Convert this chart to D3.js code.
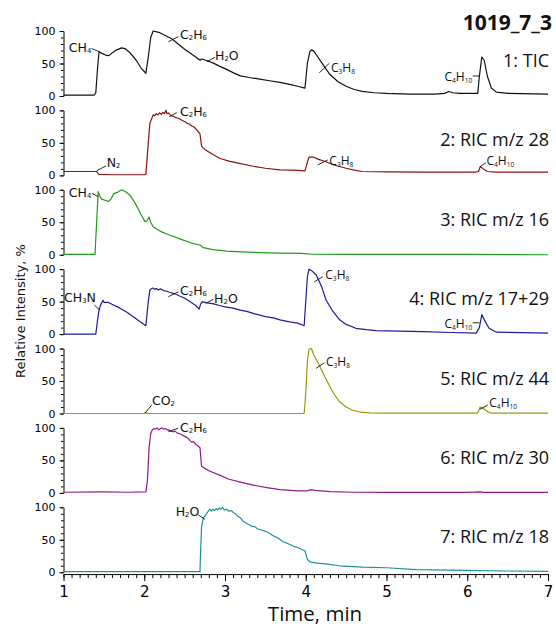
<!DOCTYPE html>
<html><head><meta charset="utf-8">
<script src="https://cdn.jsdelivr.net/npm/d3@7/dist/d3.min.js"></script>
<style>
body{margin:0;background:#fff;}
svg{display:block;}
.tick text{font-family:"DejaVu Sans",sans-serif;}
</style></head>
<body><svg id="chart" width="556" height="627"></svg>
<script>
// ---------------- data (time in min, relative intensity %) ----------------
const title = "1019_7_3";
const panelLabels = ["1: TIC","2: RIC m/z 28","3: RIC m/z 16","4: RIC m/z 17+29","5: RIC m/z 44","6: RIC m/z 30","7: RIC m/z 18"];
const xTicks = [1,2,3,4,5,6,7];
const yTicks = [0,50,100];

const tic = [[1.0,1.5],[1.38,1.5],[1.40,5],[1.42,40],[1.44,68],[1.47,66],[1.52,63],[1.56,62],[1.60,66],[1.66,71],[1.72,74],[1.76,73],[1.82,67],[1.90,55],[1.96,43],[2.02,35],[2.05,60],[2.08,90],[2.11,100],[2.18,98],[2.26,93],[2.34,88],[2.42,80],[2.50,72],[2.58,65],[2.66,58],[2.69,55],[2.71,57],[2.76,55],[2.85,51],[2.93,46],[3.02,41],[3.10,36],[3.19,31],[3.30,28.5],[3.43,26],[3.55,23.5],[3.68,21],[3.80,18],[3.90,15],[3.99,12],[4.02,50],[4.05,68],[4.07,71],[4.10,69],[4.15,60],[4.22,47],[4.30,33],[4.40,22],[4.50,15],[4.60,10],[4.70,7],[4.85,5],[5.0,4],[5.3,3],[5.6,3],[5.72,4],[5.77,7],[5.82,5],[5.9,4],[6.0,4],[6.13,4],[6.15,30],[6.18,60],[6.21,55],[6.25,30],[6.30,12],[6.36,6],[6.5,4],[7.0,3]];

const ric28 = [[1.0,6],[1.38,6],[1.41,6],[1.44,1.5],[1.6,1],[2.0,1],[2.02,2],[2.05,50],[2.07,80],[2.11,93],[2.13,92],[2.15,95],[2.17,93],[2.19,96],[2.21,94],[2.23,97],[2.25,95],[2.27,100],[2.28,95],[2.30,96],[2.33,92],[2.36,91],[2.39,89],[2.42,88],[2.45,86],[2.48,84],[2.51,82],[2.53,80],[2.56,79],[2.59,76],[2.62,74],[2.65,70],[2.69,64],[2.71,45],[2.75,40],[2.85,32],[2.94,26],[3.05,22],[3.19,18],[3.35,14],[3.5,11],[3.68,8.5],[3.85,8],[3.99,7],[4.02,20],[4.04,28],[4.10,28],[4.15,25],[4.25,21],[4.35,16],[4.5,11],[4.6,8],[4.7,6],[5.0,5.5],[5.5,5],[6.1,5],[6.14,6],[6.16,13.5],[6.2,10],[6.25,6],[6.35,5],[7.0,5]];

const ric16 = [[1.0,0.5],[1.39,0.5],[1.41,50],[1.43,97],[1.45,90],[1.47,86],[1.51,84],[1.555,82],[1.59,86],[1.62,94],[1.67,96],[1.72,100],[1.77,97],[1.82,92],[1.87,83],[1.91,74],[1.96,62],[2.01,51],[2.03,52],[2.06,58],[2.08,50],[2.11,43],[2.2,36],[2.32,30],[2.45,24],[2.61,17],[2.69,15],[2.73,11],[2.85,8],[3.02,5.5],[3.2,4.5],[3.43,3.4],[3.7,2.5],[3.95,2],[4.09,0.8],[4.5,0.6],[5.0,0.5],[6.0,0.5],[7.0,0]];

const ric1729 = [[1.0,0],[1.40,0],[1.42,20],[1.44,37],[1.46,45],[1.49,52],[1.50,49],[1.55,49],[1.60,46],[1.70,40],[1.78,34],[1.86,27],[1.94,20],[2.02,13],[2.05,50],[2.07,68],[2.09,70],[2.11,71],[2.13,69],[2.15,70],[2.18,68],[2.20,70],[2.24,67],[2.28,66],[2.32,64],[2.35,63],[2.40,61],[2.45,58],[2.49,56],[2.53,53],[2.57,50],[2.60,47],[2.64,44],[2.66,41],[2.68,38.5],[2.70,47],[2.72,50],[2.78,48],[2.86,46.5],[2.93,44],[3.0,42],[3.1,40],[3.19,37],[3.27,35],[3.35,32],[3.5,27],[3.6,25],[3.68,22],[3.8,19],[3.9,17],[3.98,13],[4.02,88],[4.04,100],[4.08,97],[4.13,91],[4.2,72],[4.25,53],[4.33,36],[4.42,22],[4.5,15],[4.62,9],[4.75,7],[4.87,5.5],[5.45,4],[5.8,2.5],[6.11,1.5],[6.15,10],[6.18,30],[6.22,20],[6.27,9],[6.36,3],[7.0,1.5]];

const ric44 = [[1.0,0],[2.0,0],[2.01,2],[2.03,0],[3.98,0],[4.0,30],[4.02,80],[4.04,99],[4.07,100],[4.10,90],[4.17,74],[4.23,58],[4.29,43.5],[4.35,30],[4.42,18],[4.5,10],[4.58,5],[4.68,2],[4.79,1],[5.0,0.5],[6.12,0.5],[6.14,3],[6.16,10],[6.2,8],[6.25,3],[6.3,0.5],[7.0,0.5]];

const ric30 = [[1.0,1],[1.5,1.5],[1.8,1],[2.02,1.5],[2.04,20],[2.06,70],[2.08,91],[2.10,97],[2.12,99],[2.14,98],[2.16,100],[2.18,97],[2.20,99],[2.22,100],[2.24,98],[2.26,99],[2.28,97],[2.30,97],[2.33,95],[2.36,94],[2.38,95],[2.41,92],[2.44,91],[2.47,89],[2.50,87],[2.53,85],[2.55,83],[2.57,80],[2.59,78],[2.61,79],[2.64,74],[2.66,73],[2.69,69.5],[2.71,41],[2.8,34],[2.94,27],[3.05,21],[3.19,16.6],[3.35,12],[3.52,8],[3.68,5],[3.9,3],[4.02,3],[4.06,5],[4.12,4],[4.3,2],[4.6,1],[5.0,0.8],[6.0,0.8],[6.16,1.5],[6.2,0.8],[7.0,0.8]];

const ric18 = [[1.0,1],[2.69,1],[2.70,40],[2.71,70],[2.73,83],[2.77,90],[2.81,97],[2.83,94],[2.85,97],[2.87,95],[2.89,98],[2.91,96],[2.93,99],[2.95,97],[2.97,100],[2.99,96],[3.02,97],[3.05,94],[3.08,95],[3.10,92],[3.13,90],[3.16,86],[3.19,84],[3.22,79],[3.27,75],[3.30,73],[3.33,71],[3.37,70],[3.40,67],[3.45,65],[3.50,63],[3.55,60],[3.60,56],[3.65,53],[3.72,47],[3.78,44],[3.85,40],[3.90,38],[3.95,35],[3.99,33],[4.02,20],[4.05,16],[4.14,14],[4.25,13],[4.42,10],[4.7,8],[5.0,7],[5.37,4],[6.0,3],[6.5,2],[7.0,1.5]];

const seriesList = [tic, ric28, ric16, ric1729, ric44, ric30, ric18];

// annotations: panel, label ("_n" = subscript), leader from (t0,v0) to (t1,v1), text at (tt,tv), anchor, size class
const annPanel  = [0,0,0,0,0, 1,1,1,1, 2, 3,3,3,3,3, 4,4,4, 5, 6];
const annLabel  = ["CH_4","C_2H_6","H_2O","C_3H_8","C_4H_10", "N_2","C_2H_6","C_3H_8","C_4H_10", "CH_4", "CH_3N","C_2H_6","H_2O","C_3H_8","C_4H_10", "CO_2","C_3H_8","C_4H_10", "C_2H_6", "H_2O"];
const annLine   = [[1.452,67.7,1.349,73],[2.298,83.5,2.422,91.2],[2.773,52.8,2.876,59.5],[4.168,35.8,4.292,50.3],[6.067,30.8,6.158,30.8],
                   [1.411,7.2,1.526,14.5],[2.310,90.3,2.402,96.5],[4.148,16,4.272,23.7],[6.158,13.4,6.232,19.5],
                   [1.349,94.6,1.431,89.4],
                   [1.381,44.8,1.452,37],[2.298,57.5,2.422,65.2],[2.761,47.4,2.855,53.5],[4.106,80.6,4.210,88.3],[6.067,17.5,6.149,17.5],
                   [2.009,0.3,2.092,13],[4.127,69.5,4.230,78],[6.158,6.5,6.253,13],
                   [2.298,94.2,2.422,99.4],
                   [2.669,88.2,2.752,81.5]];
const annText   = [[1.345,76],[2.443,95],[2.876,63],[4.313,45],[6.062,30.8],
                   [1.535,21],[2.443,99],[4.292,23.7],[6.238,23.7],
                   [1.345,97],
                   [1.402,57],[2.443,67.8],[2.865,55],[4.242,92.5],[6.062,17.5],
                   [2.095,20.8],[4.251,81],[6.273,17],
                   [2.443,102],
                   [2.682,94.8]];
const annAnchor = ["end","start","start","start","end", "start","start","start","start", "end", "end","start","start","start","end", "start","start","start", "start", "end"];
const annSmall  = [0,0,0,1,1, 0,0,1,1, 0, 0,0,0,1,1, 0,1,1, 0, 0];

// ---------------- styles / layout ----------------
const colors = ["#111111","#8b1212","#1f9a1f","#1c1c9a","#9a9a0c","#8e1a8e","#1b9494"];
const xLeft = 63.5, xRight = 548;
const firstBottom = 96, step = 79.38, panelH = 65;

const svg = d3.select("#chart");
const x = d3.scaleLinear().domain([1,7]).range([xLeft, xRight]);

seriesList.forEach((data, i) => {
  const bottom = firstBottom + i*step;
  const y = d3.scaleLinear().domain([0,100]).range([bottom, bottom - panelH]);
  const g = svg.append("g");

  g.append("g").attr("transform",`translate(${xLeft},0)`)
    .call(d3.axisLeft(y).tickValues(d3.range(0,101,10)).tickSize(2.5).tickSizeOuter(0).tickFormat(""))
    .call(s => s.select(".domain").remove());
  g.append("g").attr("transform",`translate(${xLeft},0)`)
    .call(d3.axisLeft(y).tickValues(yTicks).tickSize(4).tickSizeOuter(0).tickPadding(4))
    .call(s => s.selectAll("text").attr("font-size",11).attr("fill","#000"))
    .call(s => s.selectAll("line,path").attr("stroke","#000"));

  g.append("path").datum(data)
    .attr("fill","none").attr("stroke",colors[i]).attr("stroke-width",1.2)
    .attr("stroke-linejoin","round")
    .attr("d", d3.line().x(d => x(d[0])).y(d => y(d[1])));

  g.append("text").attr("x", 549).attr("y", bottom - 36)
    .attr("text-anchor","end").attr("dominant-baseline","central")
    .attr("font-family","'Open Sans',sans-serif").attr("font-size",18).attr("fill","#111")
    .text(panelLabels[i]);

  annPanel.forEach((p, k) => {
    if (p !== i) return;
    const L = annLine[k];
    g.append("line").attr("x1",x(L[0])).attr("y1",y(L[1])).attr("x2",x(L[2])).attr("y2",y(L[3]))
      .attr("stroke","#111").attr("stroke-width",0.9);
    const small = annSmall[k] === 1;
    const fs = small ? 12 : 12.5;
    const t = g.append("text").attr("x", x(annText[k][0])).attr("y", y(annText[k][1]))
      .attr("text-anchor", annAnchor[k]).attr("dominant-baseline","central")
      .attr("font-family", small ? "'Open Sans',sans-serif" : "'DejaVu Sans',sans-serif")
      .attr("font-size", fs).attr("fill","#111");
    const parts = annLabel[k].split(/(_\d+)/).filter(s => s.length);
    let shifted = false;
    parts.forEach(s => {
      if (s[0] === "_") {
        t.append("tspan").attr("font-size", fs*0.55).attr("dy", shifted ? 0 : 4).text(s.slice(1));
        shifted = true;
      } else {
        t.append("tspan").attr("dy", shifted ? -4 : 0).text(s);
        shifted = false;
      }
    });
  });
});

// x axis
const axisY = firstBottom + 6*step + 1.8;
svg.append("g").attr("transform",`translate(0,${axisY})`)
  .call(d3.axisBottom(x).tickValues(d3.range(10,71,1).map(v => v/10)).tickSize(4).tickSizeOuter(0).tickFormat(""))
  .call(s => s.select(".domain").attr("stroke","#000"))
  .call(s => s.selectAll("line").attr("stroke","#000"));
svg.append("g").attr("transform",`translate(0,${axisY})`)
  .call(d3.axisBottom(x).tickValues(xTicks).tickSize(7).tickSizeOuter(0).tickPadding(5).tickFormat(d3.format("d")))
  .call(s => s.select(".domain").remove())
  .call(s => s.selectAll("line").attr("stroke","#000"))
  .call(s => s.selectAll("text").attr("font-size",15).attr("fill","#000"));

// axis titles
svg.append("text").attr("x", 315).attr("y", 621)
  .attr("text-anchor","middle").attr("font-family","'Open Sans',sans-serif")
  .attr("font-size",20.5).attr("fill","#111").text("Time, min");
svg.append("text").attr("transform","translate(20.5,311) rotate(-90)")
  .attr("text-anchor","middle").attr("dominant-baseline","central")
  .attr("font-family","'DejaVu Sans',sans-serif").attr("font-size",13).attr("fill","#111")
  .text("Relative Intensity, %");

// title
svg.append("text").attr("x", 552).attr("y", 30)
  .attr("text-anchor","end").attr("font-family","'Open Sans',sans-serif")
  .attr("font-weight","bold").attr("font-size",21).attr("fill","#111").text(title);
</script></body></html>
